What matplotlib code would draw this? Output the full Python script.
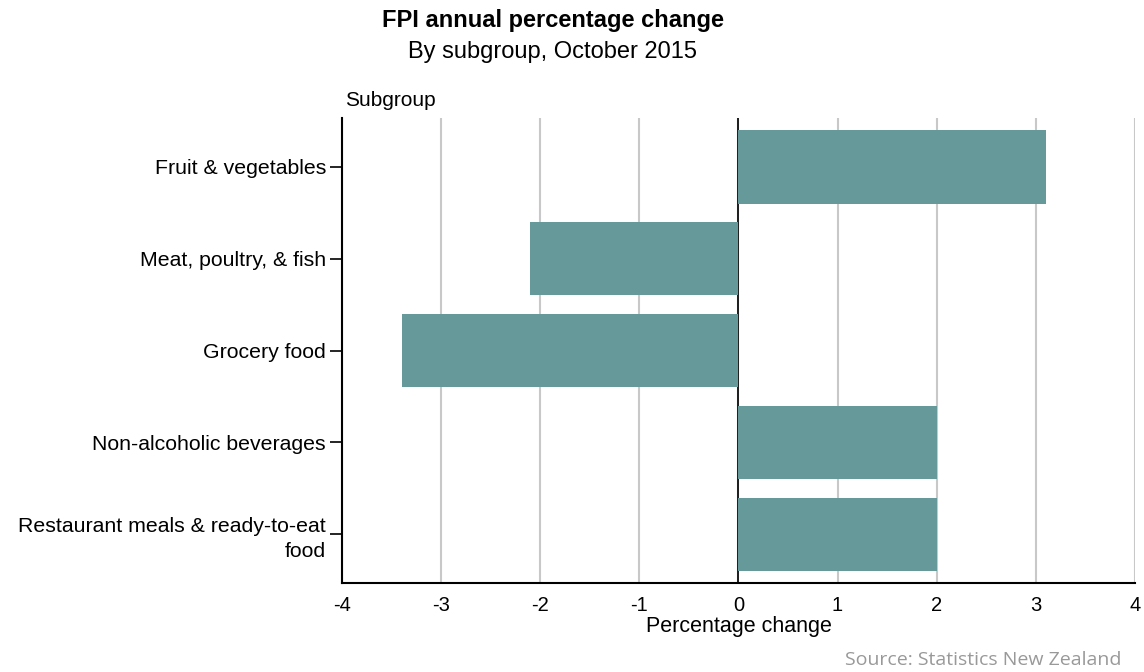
import matplotlib.pyplot as plt

subgroups = ["Fruit & vegetables", "Meat, poultry, & fish", "Grocery food",
             "Non-alcoholic beverages", "Restaurant meals & ready-to-eat\nfood"]
changes = [3.1, -2.1, -3.4, 2.0, 2.0]
xticks = [-4, -3, -2, -1, 0, 1, 2, 3, 4]

plt.rcParams['font.family'] = ['Liberation Sans', 'DejaVu Sans']

fig = plt.figure(figsize=(11.44, 6.72), dpi=100)
ax = fig.add_axes([0.299, 0.1324, 0.693, 0.6919])

pos = list(range(len(subgroups)))
ax.barh(pos, changes, height=0.8, color='#669999', zorder=3)
ax.axvline(0, color='black', lw=1.2, zorder=2)

ax.set_xlim(-4, 4)
ax.set_ylim(len(subgroups) - 0.47, -0.53)
ax.set_xticks(xticks)
ax.set_xticklabels([str(t) for t in xticks], fontsize=14.5)
ax.set_yticks(pos)
ax.set_yticklabels(subgroups, fontsize=15.3, linespacing=1.35)
ax.tick_params(axis='x', length=0, pad=9)
ax.tick_params(axis='y', length=8.5, width=1.2, direction='out', pad=3)

ax.grid(axis='x', color='#c8c8c8', lw=1.5, zorder=1)
for s in ['top', 'right']:
    ax.spines[s].set_visible(False)
for s in ['left', 'bottom']:
    ax.spines[s].set_linewidth(1.5)

ax.set_xlabel('Percentage change', fontsize=15.5, labelpad=1)

fig.text(0.483, 0.970, 'FPI annual percentage change', ha='center', va='center',
         fontsize=17, fontweight='bold')
fig.text(0.483, 0.922, 'By subgroup, October 2015', ha='center', va='center', fontsize=17)
fig.text(0.302, 0.851, 'Subgroup', ha='left', va='center', fontsize=15)
fig.text(0.98, 0.018, 'Source: Statistics New Zealand', ha='right', va='center',
         fontsize=14, color='#999999', family=['Open Sans', 'DejaVu Sans'])

plt.savefig('out.png')
